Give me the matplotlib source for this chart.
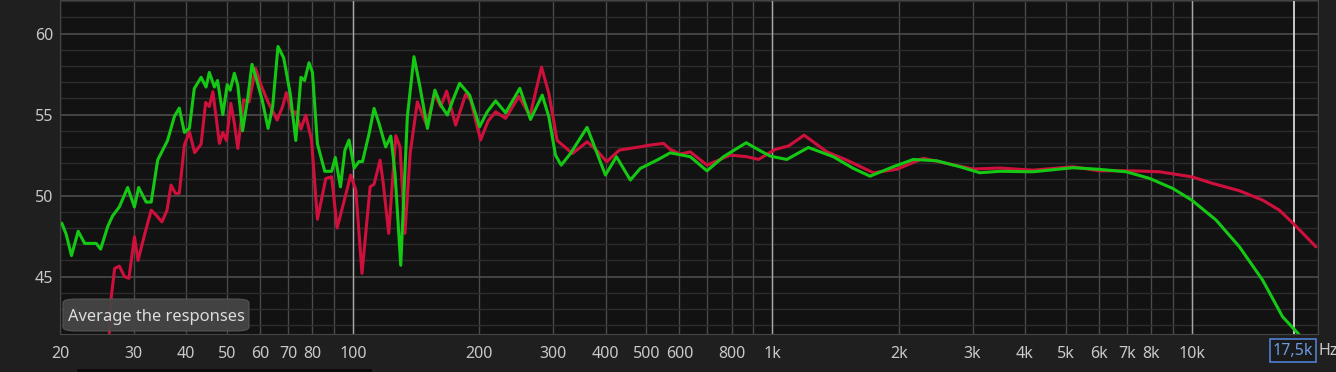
import matplotlib.pyplot as plt
from matplotlib.patches import FancyBboxPatch, Rectangle

# frequency response (Hz, dB)
green_hz = [20.2, 20.7, 21.3, 22.1, 22.9, 24.4, 25.0, 26.0, 26.7, 27.7, 29.0, 30.1, 30.8, 32.1, 33.0,
            34.2, 36.1, 37.5, 38.5, 39.6, 40.7, 41.8, 43.4, 44.6, 45.4, 46.7, 47.5, 48.9, 50.1, 50.9,
            52.1, 53.1, 54.5, 56.0, 57.4, 58.8, 60.7, 62.7, 64.3, 66.2, 68.3, 70.8, 73.0, 75.1, 76.6,
            78.5, 80.0, 82.2, 85.6, 88.9, 90.7, 93.3, 95.6, 97.8, 100.6, 103.3, 105.3, 109.2, 112.2,
            115.3, 119.6, 123.0, 125.9, 129.9, 134.7, 139.7, 144.1, 150.4, 156.7, 161.8, 167.8, 173.0,
            179.5, 189.6, 200.3, 208.9, 218.7, 231.0, 249.8, 264.9, 282.5, 292.9, 303.8, 313.5, 329.9,
            361.4, 381.9, 399.7, 424.6, 458.3, 484.2, 530.6, 570.6, 636.8, 698.1, 764.4, 865.7, 934.9,
            987.4, 1082, 1218, 1397, 1559, 1709, 1941, 2167, 2463, 2799, 3123, 3485, 4182, 5208, 6029,
            6981, 7932, 9012, 10000, 11430, 12990, 14760, 16470, 18220]
green_db = [48.3, 47.6, 46.3, 47.8, 47.05, 47.05, 46.7, 48.1, 48.75, 49.3, 50.5, 49.3, 50.5, 49.6, 49.6,
            52.2, 53.4, 54.9, 55.4, 53.9, 54.15, 56.6, 57.3, 56.7, 57.6, 56.7, 57.1, 55.0, 56.85, 56.5,
            57.55, 56.8, 54.0, 55.9, 58.1, 57.2, 55.9, 54.15, 55.5, 59.2, 58.5, 56.3, 53.4, 57.3, 57.1,
            58.2, 57.6, 53.2, 51.5, 51.5, 52.35, 50.54, 52.8, 53.43, 51.7, 52.1, 52.1, 53.84, 55.38,
            54.46, 53.0, 53.67, 51.37, 45.7, 54.87, 58.57, 56.82, 54.15, 56.51, 55.59, 54.97, 55.9,
            56.93, 56.2, 54.25, 55.17, 55.85, 55.11, 56.62, 54.7, 56.2, 54.87, 52.5, 51.88, 52.6,
            54.21, 52.6, 51.27, 52.4, 50.96, 51.68, 52.19, 52.64, 52.4, 51.53, 52.4, 53.26, 52.77,
            52.44, 52.23, 52.97, 52.4, 51.68, 51.2, 51.78, 52.23, 52.15, 51.78, 51.41, 51.5, 51.47,
            51.72, 51.62, 51.47, 51.06, 50.44, 49.72, 48.49, 46.84, 44.78, 42.52, 41.3]

red_hz = [26.2, 26.5, 27.0, 27.7, 28.5, 29.2, 30.1, 30.7, 31.8, 33.0, 33.9, 35.0, 36.0, 36.8, 37.7,
          38.5, 39.6, 40.7, 41.9, 43.4, 44.5, 45.4, 46.3, 48.0, 48.9, 49.9, 51.1, 52.1, 53.1, 54.8,
          56.5, 58.5, 60.3, 62.5, 65.9, 67.9, 69.3, 71.5, 73.0, 75.1, 77.1, 79.6, 82.2, 86.1, 88.9,
          91.6, 94.4, 98.7, 101.5, 105.0, 109.8, 112.2, 116.0, 118.0, 121.6, 126.4, 129.4, 132.9,
          136.8, 142.3, 149.8, 156.3, 161.8, 167.1, 175.6, 185.5, 190.6, 201.4, 209.8, 218.7, 231.0,
          248.5, 264.2, 281.4, 292.9, 306.6, 333.6, 361.4, 380.4, 402.5, 431.5, 484.2, 511.4, 550.1,
          570.6, 602.8, 636.8, 698.1, 793.2, 869.0, 926.3, 1015, 1092, 1190, 1348, 1504, 1740, 1978,
          2289, 2602, 3010, 3485, 4182, 5208, 6029, 7236, 8377, 10000, 11220, 12990, 14760, 16180,
          17460, 19780]
red_db = [41.3, 43.75, 45.5, 45.65, 45.0, 44.9, 47.46, 46.0, 47.56, 49.1, 48.8, 48.38, 49.1, 50.65, 50.14,
          50.14, 53.12, 53.94, 52.65, 53.17, 55.75, 55.5, 56.41, 53.22, 53.9, 53.4, 55.69, 54.46, 52.91,
          55.9, 55.79, 57.85, 56.82, 55.85, 54.66, 55.5, 56.35, 55.1, 55.17, 54.1, 54.97, 53.43, 48.54,
          51.06, 51.16, 48.0, 49.31, 51.27, 50.34, 45.2, 50.54, 50.7, 52.19, 50.75, 47.67, 53.7, 53.0,
          47.67, 52.6, 55.79, 54.35, 56.3, 55.48, 56.45, 54.35, 56.25, 55.9, 53.43, 54.6, 55.17, 54.77,
          56.12, 54.92, 57.93, 56.31, 53.4, 52.6, 53.32, 52.81, 52.09, 52.81, 53.01, 53.12, 53.22,
          52.85, 52.56, 52.7, 51.88, 52.5, 52.4, 52.23, 52.85, 53.06, 53.73, 52.7, 52.19, 51.41, 51.62,
          52.3, 51.99, 51.64, 51.7, 51.57, 51.78, 51.53, 51.53, 51.47, 51.16, 50.75, 50.3, 49.72, 49.1,
          48.28, 46.84]

x_ticks = [20, 30, 40, 50, 60, 70, 80, 100, 200, 300, 400, 500, 600, 800,
           1000, 2000, 3000, 4000, 5000, 6000, 7000, 8000, 10000]
x_labels = ['20', '30', '40', '50', '60', '70', '80', '100', '200', '300', '400', '500', '600', '800',
            '1k', '2k', '3k', '4k', '5k', '6k', '7k', '8k', '10k']
x_minor = [90, 700, 900, 9000, 20000]
decades = [100, 1000, 10000]
cursor_hz = 17500
y_ticks = [45, 50, 55, 60]
y_minor = list(range(42, 63))

W, H = 1336, 372
fig = plt.figure(figsize=(W / 100, H / 100), dpi=100, facecolor='#1f1f1f')
ax = fig.add_axes([60 / W, 1 - 334 / H, (1318 - 60) / W, 334 / H])
ax.set_facecolor('#121212')
ax.set_xscale('log')
ax.set_xlim(20, 20000)
ax.set_ylim(41.46, 62.07)

ax.set_xticks(x_ticks, x_labels)
ax.set_xticks(x_minor, minor=True)
ax.set_yticks(y_ticks)
ax.set_yticks(y_minor, minor=True)
ax.xaxis.set_minor_formatter(plt.NullFormatter())
ax.tick_params(which='both', length=0, colors='#c8c8c8', labelsize=11.5)
ax.tick_params(axis='x', pad=9)
ax.tick_params(axis='y', pad=5)
for lab in ax.get_xticklabels() + ax.get_yticklabels():
    lab.set_family('Noto Sans')

ax.grid(which='major', axis='x', color='#4a4a4a', lw=1)
ax.grid(which='minor', axis='x', color='#4a4a4a', lw=1)
ax.grid(which='major', axis='y', color='#4c4c4c', lw=1.2)
ax.grid(which='minor', axis='y', color='#2c2c2c', lw=1)
for d in decades:
    ax.axvline(d, color='#a8a8a8', lw=1)
ax.axvline(cursor_hz, color='#e6e6e6', lw=1.2)
for s in ax.spines.values():
    s.set_color('#454545')

ax.plot(red_hz, red_db, color='#d0103c', lw=2.2, solid_joinstyle='round', solid_capstyle='round')
ax.plot(green_hz, green_db, color='#14c814', lw=2.2, solid_joinstyle='round', solid_capstyle='round')

# tooltip
fig.patches.append(FancyBboxPatch((63 / W, 1 - 331 / H), 186 / W, 32 / H,
                                  boxstyle='round,pad=0,rounding_size=0.01', transform=fig.transFigure,
                                  facecolor='#454545', edgecolor='#555555', lw=0.8, alpha=0.95))
fig.text(156 / W, 1 - 317 / H, 'Average the responses', color='#dcdcdc', fontsize=11.9,
         family='Noto Sans', ha='center', va='center')

# cursor frequency box
fig.patches.append(Rectangle((1270 / W, 1 - 362 / H), 46 / W, 23 / H, transform=fig.transFigure,
                             facecolor='#1a1a1a', edgecolor='#4f7fd0', lw=1.2))
fig.text(1293 / W, 1 - 351 / H, '17,5k', color='#6d9ae0', fontsize=11.5,
         family='Noto Sans', ha='center', va='center')
fig.text(1319 / W, 1 - 351 / H, 'Hz', color='#c8c8c8', fontsize=11.5,
         family='Noto Sans', ha='left', va='center')

# scrollbar strip at the bottom
fig.patches.append(Rectangle((77 / W, 0), 295 / W, 3 / H, transform=fig.transFigure,
                             facecolor='#0a0a0a', edgecolor='none'))

fig.savefig('out.png', dpi=100, facecolor=fig.get_facecolor())
